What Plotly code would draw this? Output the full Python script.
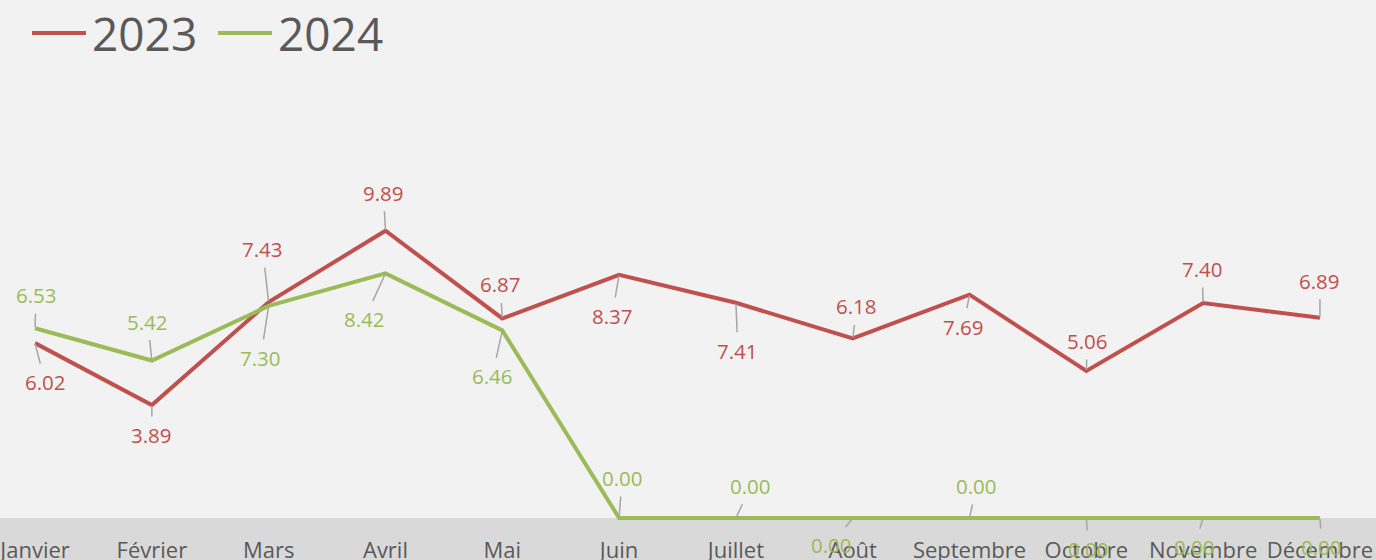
import plotly.graph_objects as go

months = ["Janvier", "Février", "Mars", "Avril", "Mai", "Juin", "Juillet",
          "Août", "Septembre", "Octobre", "Novembre", "Décembre"]
v2023 = [6.02, 3.89, 7.43, 9.89, 6.87, 8.37, 7.41, 6.18, 7.69, 5.06, 7.40, 6.89]
v2024 = [6.53, 5.42, 7.30, 8.42, 6.46, 0.00, 0.00, 0.00, 0.00, 0.00, 0.00, 0.00]

RED = "#c0504d"
GREEN = "#9bbb59"
TXT = "#595959"
LEAD = "#a6a6a6"
FONT = "Open Sans"

# label offsets in pixels (ax, ay) relative to the point
off2023 = [(10, 39), (0, 30), (-6, -53), (-2, -38), (-2, -34), (-7, 41),
           (2, 48), (4, -32), (-6, 32), (1, -30), (-1, -34), (0, -37)]
off2024 = [(1, -33), (-4, -39), (-8, 52), (-21, 46), (-10, 46), (3, -40),
           (15, -32), (-21, 27), (7, -32), (2, 31), (-9, 29), (2, 29)]

W, H = 1376, 560
MB = 39
PH = H - MB
ppu = 29.05
y0px = 518
ymin = -(PH - y0px) / ppu
ymax = y0px / ppu


def px2py(py):
    return 1 - py / PH


fig = go.Figure()
fig.add_trace(go.Scatter(x=months, y=v2023, mode="lines", name="2023",
                         line=dict(color=RED, width=4), showlegend=False))
fig.add_trace(go.Scatter(x=months, y=v2024, mode="lines", name="2024",
                         line=dict(color=GREEN, width=4), showlegend=False))

annotations = []
for vals, offs, col in ((v2023, off2023, RED), (v2024, off2024, GREEN)):
    for m, v, (ax, ay) in zip(months, vals, offs):
        annotations.append(dict(
            x=m, y=v, xref="x", yref="y", text=f"{v:.2f}",
            showarrow=True, arrowhead=0, arrowwidth=1.5, arrowcolor=LEAD,
            ax=ax, ay=ay, standoff=1, startstandoff=3,
            font=dict(family=FONT, size=20.5, color=col)))

# legend (custom)
legend_items = [("2023", RED, 32, 86, 90), ("2024", GREEN, 218, 272, 276)]
shapes = [dict(type="rect", xref="paper", yref="paper", x0=-0.01, x1=1.01,
               y0=-0.2, y1=px2py(y0px),
               fillcolor="#d9d9d9", line=dict(width=0), layer="below")]
for name, col, lx0, lx1, tx in legend_items:
    shapes.append(dict(type="line", xref="paper", yref="paper",
                       x0=lx0 / W, x1=lx1 / W, y0=px2py(33), y1=px2py(33),
                       line=dict(color=col, width=4)))
    annotations.append(dict(x=tx / W, y=px2py(33), xref="paper", yref="paper",
                            text=name, showarrow=False, xanchor="left",
                            yanchor="middle",
                            font=dict(family=FONT, size=46, color=TXT)))

fig.update_layout(
    width=W, height=H,
    margin=dict(l=0, r=0, t=0, b=MB, pad=0),
    paper_bgcolor="#f2f2f2", plot_bgcolor="rgba(0,0,0,0)",
    shapes=shapes, annotations=annotations,
    xaxis=dict(type="category", range=[-0.3, 11.48], showgrid=False,
               zeroline=False, showline=False, ticks="", automargin=False,
               ticklabelstandoff=14,
               tickfont=dict(family=FONT, size=22, color=TXT)),
    yaxis=dict(range=[ymin, ymax], showgrid=False, zeroline=False,
               automargin=False,
               showticklabels=False, showline=False, ticks=""),
)

fig.write_html("out.html", config={"displayModeBar": False},
               post_script="document.body.style.margin='0';"
                           "document.body.style.overflow='hidden';")
